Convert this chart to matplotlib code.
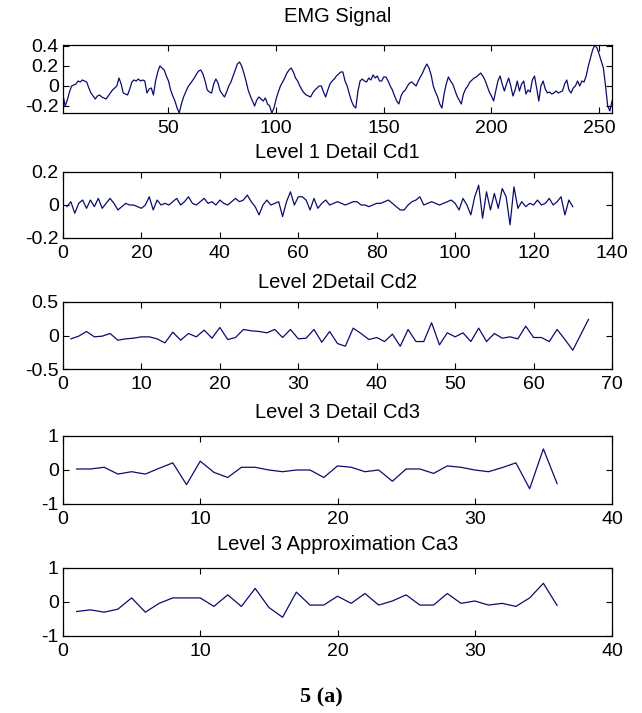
import matplotlib
matplotlib.use("Agg")
import matplotlib.pyplot as plt
import numpy as np

plt.rcParams['font.family'] = ['Liberation Sans', 'DejaVu Sans']

# raw EMG segment, 256 samples
emg = [
    -0.09, -0.20, -0.14, -0.06, 0.00, 0.01, 0.02, 0.05, 0.04, 0.06,
    0.05, 0.04, -0.02, -0.07, -0.10, -0.13, -0.10, -0.09, -0.11, -0.12,
    -0.13, -0.10, -0.07, -0.04, -0.02, 0.00, 0.08, 0.02, -0.07, -0.08,
    -0.09, -0.03, 0.04, 0.06, 0.05, 0.07, 0.05, 0.06, 0.05, -0.07,
    -0.03, -0.02, -0.09, 0.05, 0.14, 0.20, 0.18, 0.16, 0.10, 0.05,
    -0.04, -0.10, -0.15, -0.22, -0.27, -0.18, -0.11, -0.06, -0.01, 0.02,
    0.05, 0.08, 0.12, 0.15, 0.16, 0.12, 0.05, -0.04, -0.06, -0.07,
    0.02, 0.07, 0.03, -0.05, -0.08, -0.11, -0.06, 0.00, 0.04, 0.10,
    0.16, 0.22, 0.24, 0.20, 0.13, 0.05, -0.04, -0.10, -0.15, -0.20,
    -0.14, -0.11, -0.13, -0.15, -0.12, -0.18, -0.20, -0.27, -0.22, -0.13,
    -0.06, 0.00, 0.04, 0.08, 0.13, 0.16, 0.18, 0.14, 0.08, 0.05,
    0.00, -0.04, -0.07, -0.09, -0.10, -0.11, -0.07, -0.04, -0.02, 0.00,
    0.00, -0.06, -0.11, -0.04, 0.02, 0.05, 0.07, 0.10, 0.12, 0.14,
    0.14, 0.05, 0.00, -0.08, -0.15, -0.20, -0.22, -0.05, 0.05, 0.07,
    0.05, 0.04, 0.08, 0.06, 0.11, 0.08, 0.10, 0.05, 0.05, 0.09,
    0.09, 0.05, 0.00, -0.04, -0.10, -0.15, -0.18, -0.10, -0.06, -0.04,
    0.00, 0.03, 0.04, 0.02, 0.00, 0.05, 0.09, 0.13, 0.18, 0.22,
    0.18, 0.11, 0.00, -0.06, -0.11, -0.18, -0.22, -0.08, 0.02, 0.09,
    0.05, 0.02, -0.04, -0.10, -0.14, -0.18, -0.08, -0.03, 0.00, 0.04,
    0.06, 0.08, 0.09, 0.11, 0.13, 0.10, 0.06, 0.00, -0.06, -0.10,
    -0.15, -0.05, 0.05, 0.10, 0.02, -0.05, 0.02, 0.08, 0.00, -0.10,
    -0.04, 0.05, -0.05, 0.02, 0.05, -0.08, -0.04, -0.06, 0.06, 0.10,
    -0.02, -0.15, 0.00, 0.05, -0.03, -0.07, -0.06, -0.08, -0.07, -0.05,
    -0.07, -0.06, -0.05, 0.02, 0.06, -0.04, -0.07, -0.02, 0.00, 0.05,
    0.00, 0.05, 0.04, 0.10, 0.20, 0.28, 0.36, 0.41, 0.38, 0.32,
    0.25, 0.18, 0.00, -0.20, -0.25, -0.15,
]

# level 1 detail coefficients (130)
cd1 = [
    -0.01, 0.02, -0.05, 0.01, 0.03, -0.02, 0.03, -0.01, 0.04, -0.02,
    0.01, 0.04, 0.01, -0.03, -0.01, 0.01, 0.00, 0.00, -0.01, -0.02,
    0.00, 0.05, -0.03, 0.03, 0.00, 0.01, 0.00, 0.02, 0.04, 0.00,
    0.02, 0.05, 0.01, 0.00, 0.02, 0.04, 0.01, 0.02, 0.00, 0.03,
    0.01, 0.00, 0.02, 0.04, 0.02, 0.03, 0.06, 0.02, -0.01, -0.06,
    0.00, 0.03, 0.00, 0.01, 0.02, -0.07, 0.02, 0.08, 0.00, 0.05,
    0.05, 0.03, -0.03, 0.04, -0.02, 0.01, 0.03, 0.00, 0.01, 0.02,
    0.01, 0.00, 0.01, 0.02, 0.02, 0.00, 0.00, -0.01, 0.00, 0.01,
    0.01, 0.02, 0.03, 0.01, -0.01, -0.03, -0.03, 0.00, 0.02, 0.03,
    0.05, 0.00, 0.01, 0.02, 0.01, 0.00, 0.01, 0.02, 0.03, 0.01,
    -0.03, 0.04, 0.00, -0.06, 0.05, 0.12, -0.08, 0.08, -0.03, 0.07,
    -0.02, 0.10, 0.05, -0.12, 0.11, -0.02, 0.02, -0.01, 0.01, 0.00,
    0.03, 0.00, 0.01, 0.04, 0.00, 0.02, 0.05, -0.06, 0.03, -0.01,
]

# level 2 detail coefficients (67)
cd2 = [
    -0.05, -0.01, 0.06, -0.02, -0.01, 0.03, -0.07, -0.05, -0.04, -0.02,
    -0.02, -0.05, -0.11, 0.05, -0.07, 0.03, -0.02, 0.08, -0.04, 0.12,
    -0.06, -0.03, 0.09, 0.07, 0.06, 0.04, 0.09, -0.03, 0.09, -0.05,
    -0.04, 0.09, -0.10, 0.06, -0.12, -0.16, 0.11, 0.03, -0.06, -0.03,
    -0.09, 0.02, -0.16, 0.09, -0.09, -0.09, 0.19, -0.14, 0.04, -0.02,
    0.04, -0.09, 0.11, -0.09, 0.03, -0.04, -0.02, -0.05, 0.14, -0.03,
    -0.03, -0.09, 0.09, -0.06, -0.22, 0.01, 0.24,
]

# level 3 detail and approximation coefficients (36 each)
cd3 = [
    0.03, 0.03, 0.08, -0.12, -0.05, -0.12, 0.05, 0.21, -0.43, 0.26,
    -0.07, -0.22, 0.08, 0.08, 0.00, -0.05, 0.00, 0.00, -0.22, 0.12,
    0.08, -0.05, 0.00, -0.33, 0.03, 0.03, -0.10, 0.12, 0.08, 0.00,
    -0.05, 0.07, 0.21, -0.55, 0.62, -0.40,
]
ca3 = [
    -0.28, -0.23, -0.30, -0.21, 0.12, -0.30, -0.04, 0.12, 0.12, 0.12,
    -0.13, 0.21, -0.13, 0.40, -0.16, -0.45, 0.29, -0.09, -0.09, 0.17,
    -0.04, 0.25, -0.09, 0.03, 0.21, -0.09, -0.09, 0.25, -0.04, 0.03,
    -0.09, -0.04, -0.13, 0.12, 0.55, -0.10,
]

titles = ['EMG Signal', 'Level 1 Detail Cd1', 'Level 2Detail Cd2',
          'Level 3 Detail Cd3', 'Level 3 Approximation Ca3']
series = [emg, cd1, cd2, cd3, ca3]
xlims = [(1, 256), (0, 140), (0, 70), (0, 40), (0, 40)]
ylims = [(min(emg), max(emg)), (-0.2, 0.2), (-0.5, 0.5), (-1, 1), (-1, 1)]
xticks = [[50, 100, 150, 200, 250], list(range(0, 141, 20)),
          list(range(0, 71, 10)), list(range(0, 41, 10)), list(range(0, 41, 10))]
yticks = [[-0.2, 0, 0.2, 0.4], [-0.2, 0, 0.2], [-0.5, 0, 0.5], [-1, 0, 1], [-1, 0, 1]]

# axes boxes in pixels: (top, bottom), plus title centre lines
boxes = [(45, 113), (172, 238), (302, 369), (436, 504), (568, 636)]
title_y = [17, 152, 282, 413, 545]
W, H = 642, 713
left, right = 63, 612

fig = plt.figure(figsize=(W / 100, H / 100), dpi=100)
for i, (top, bot) in enumerate(boxes):
    ax = fig.add_axes([left / W, 1 - bot / H, (right - left) / W, (bot - top) / H])
    y = series[i]
    x = np.arange(1, len(y) + 1)
    ax.plot(x, y, color='#0c0c6e', lw=0.9)
    ax.set_xlim(*xlims[i])
    ax.set_ylim(*ylims[i])
    ax.set_xticks(xticks[i])
    ax.set_yticks(yticks[i])
    ax.set_yticklabels(['%g' % v for v in yticks[i]])
    ax.tick_params(direction='in', length=4, width=0.8, top=True, right=True,
                   labelsize=14, pad=3)
    ax.tick_params(axis='x', pad=5)
    for s in ax.spines.values():
        s.set_linewidth(0.9)
    fig.text((left + right) / 2 / W, 1 - title_y[i] / H, titles[i],
             ha='center', va='center', fontsize=14.5)

fig.text(0.5, 1 - 697 / H, '5 (a)', ha='center', va='center', fontsize=16,
         fontweight='bold', family=['Liberation Serif', 'DejaVu Serif'])

fig.savefig('out.png', dpi=100)
